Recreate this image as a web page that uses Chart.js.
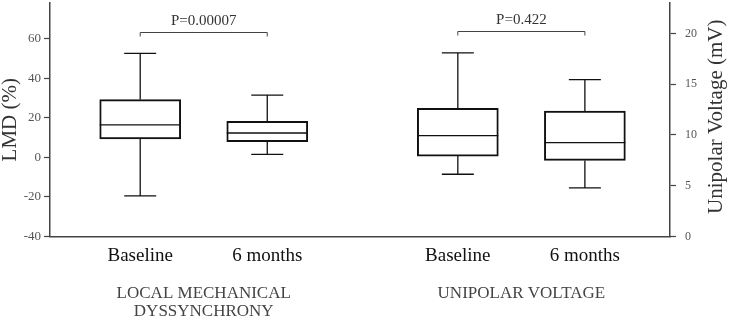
<!DOCTYPE html>
<html>
<head>
<meta charset="utf-8">
<script src="https://cdn.jsdelivr.net/npm/chart.js@4"></script>
<style>
  html, body { margin: 0; padding: 0; background: #fff; }
  #wrap { width: 730px; height: 320px; }
</style>
</head>
<body>
<div id="wrap"><canvas id="boxChart" width="730" height="320"></canvas></div>
<script>
// categories and groups
const categories = ['Baseline', '6 months', 'Baseline', '6 months'];
const groupNames = [['LOCAL MECHANICAL', 'DYSSYNCHRONY'], ['UNIPOLAR VOLTAGE']];
const xPositions = [1, 2, 3.5, 4.5];

// Local mechanical dyssynchrony (%), left axis
const lmdMin = [-19.5, 1.5];
const lmdQ1 = [9.3, 7.9];
const lmdMedian = [16.4, 12.3];
const lmdQ3 = [29.2, 18.2];
const lmdMax = [52.5, 31.4];

// Unipolar voltage (mV), right axis
const uniMin = [6.13, 4.78];
const uniQ1 = [7.92, 7.49];
const uniMedian = [9.94, 9.25];
const uniQ3 = [12.62, 12.35];
const uniMax = [18.08, 15.46];

// significance brackets
const pLabels = ['P=0.00007', 'P=0.422'];
const bracketLevels = [63.2, 20.2];

const serif = '"Liberation Serif", "Times New Roman", serif';

function boxData(offset, q1, q3) {
  return q1.map((v, i) => ({ x: xPositions[offset + i], y: [v, q3[i]] }));
}

const stats = [
  { min: lmdMin, med: lmdMedian, max: lmdMax, q1: lmdQ1, q3: lmdQ3, offset: 0, axis: 'y' },
  { min: uniMin, med: uniMedian, max: uniMax, q1: uniQ1, q3: uniQ3, offset: 2, axis: 'y2' }
];

// no label padding, so the plot area fills the canvas like the original
function noPadding(s) {
  s.paddingTop = 0;
  s.paddingBottom = 0;
  s.paddingLeft = 0;
  s.paddingRight = 0;
}

// whiskers, medians, p-value brackets and extra titles
const boxExtras = {
  id: 'boxExtras',
  afterDatasetsDraw(chart) {
    const ctx = chart.ctx;
    const xs = chart.scales.x;
    const area = chart.chartArea;
    const half = 40.5;
    const cap = 16;

    ctx.save();
    ctx.strokeStyle = '#111';
    ctx.lineWidth = 1.3;
    stats.forEach(s => {
      const ys = chart.scales[s.axis];
      s.med.forEach((m, i) => {
        const x = xs.getPixelForValue(xPositions[s.offset + i]);
        const yMed = ys.getPixelForValue(m);
        const yMin = ys.getPixelForValue(s.min[i]);
        const yMax = ys.getPixelForValue(s.max[i]);
        const yQ1 = ys.getPixelForValue(s.q1[i]);
        const yQ3 = ys.getPixelForValue(s.q3[i]);
        ctx.beginPath();
        ctx.moveTo(x - half, yMed); ctx.lineTo(x + half, yMed);
        ctx.moveTo(x, yQ3); ctx.lineTo(x, yMax);
        ctx.moveTo(x - cap, yMax); ctx.lineTo(x + cap, yMax);
        ctx.moveTo(x, yQ1); ctx.lineTo(x, yMin);
        ctx.moveTo(x - cap, yMin); ctx.lineTo(x + cap, yMin);
        ctx.stroke();
      });
    });

    // brackets
    ctx.strokeStyle = '#444';
    ctx.lineWidth = 1;
    ctx.fillStyle = '#333';
    ctx.font = '15px ' + serif;
    ctx.textAlign = 'center';
    ctx.textBaseline = 'alphabetic';
    stats.forEach((s, g) => {
      const ys = chart.scales[s.axis];
      const x1 = xs.getPixelForValue(xPositions[s.offset]);
      const x2 = xs.getPixelForValue(xPositions[s.offset + 1]);
      const y = Math.round(ys.getPixelForValue(bracketLevels[g])) + 0.5;
      ctx.beginPath();
      ctx.moveTo(x1, y + 4); ctx.lineTo(x1, y); ctx.lineTo(x2, y); ctx.lineTo(x2, y + 4);
      ctx.stroke();
      ctx.fillText(pLabels[g], (x1 + x2) / 2, y - 8);
    });

    // group names under the axis
    ctx.fillStyle = '#444';
    ctx.font = '17px ' + serif;
    ctx.textBaseline = 'middle';
    groupNames.forEach((lines, g) => {
      const s = stats[g];
      const x = (xs.getPixelForValue(xPositions[s.offset]) + xs.getPixelForValue(xPositions[s.offset + 1])) / 2;
      lines.forEach((t, k) => ctx.fillText(t, x, area.bottom + 57 + k * 18));
    });

    // right axis title, reading bottom to top
    ctx.fillStyle = '#333';
    ctx.font = '21px ' + serif;
    ctx.translate(716, (area.top + area.bottom) / 2 - 3);
    ctx.rotate(-Math.PI / 2);
    ctx.fillText('Unipolar Voltage (mV)', 0, 0);
    ctx.restore();
  }
};

const ctx = document.getElementById('boxChart').getContext('2d');

new Chart(ctx, {
  type: 'bar',
  data: {
    datasets: [
      {
        label: 'LMD',
        data: boxData(0, lmdQ1, lmdQ3),
        yAxisID: 'y',
        backgroundColor: 'rgba(255,255,255,0)',
        borderColor: '#111',
        borderWidth: 1.3,
        borderSkipped: false,
        barThickness: 81,
        grouped: false
      },
      {
        label: 'Unipolar Voltage',
        data: boxData(2, uniQ1, uniQ3),
        yAxisID: 'y2',
        backgroundColor: 'rgba(255,255,255,0)',
        borderColor: '#111',
        borderWidth: 1.3,
        borderSkipped: false,
        barThickness: 81,
        grouped: false
      }
    ]
  },
  options: {
    responsive: false,
    animation: false,
    events: [],
    layout: { padding: { top: 3, left: 0, right: 0, bottom: 0 } },
    plugins: {
      legend: { display: false },
      tooltip: { enabled: false }
    },
    scales: {
      x: {
        type: 'linear',
        offset: false,
        min: 0.29,
        max: 5.17,
        afterFit: s => { s.height = 83.5; noPadding(s); },
        afterBuildTicks: s => { s.ticks = xPositions.map(v => ({ value: v })); },
        grid: { drawOnChartArea: false, drawTicks: false },
        border: { color: '#444', width: 1.5 },
        ticks: {
          autoSkip: false,
          maxRotation: 0,
          padding: 8,
          color: '#111',
          font: { family: serif, size: 19 },
          callback: (v, i) => categories[i]
        }
      },
      y: {
        position: 'left',
        min: -40,
        max: 78,
        afterFit: s => { s.width = 50; noPadding(s); },
        grid: { drawOnChartArea: false, tickLength: 6, tickColor: '#444', tickWidth: 1.2 },
        border: { color: '#444', width: 1.5 },
        ticks: {
          stepSize: 20,
          includeBounds: false,
          padding: 3,
          color: '#555',
          font: { family: serif, size: 13 }
        },
        title: {
          display: true,
          text: 'LMD (%)',
          color: '#333',
          padding: 0,
          font: { family: serif, size: 21, lineHeight: 1 }
        }
      },
      y2: {
        position: 'right',
        min: 0,
        max: 23,
        afterFit: s => { s.width = 60; noPadding(s); },
        grid: { drawOnChartArea: false, tickLength: 6, tickColor: '#444', tickWidth: 1.2 },
        border: { color: '#444', width: 1.5 },
        ticks: {
          stepSize: 5,
          includeBounds: false,
          padding: 9,
          color: '#555',
          font: { family: serif, size: 12 }
        }
      }
    }
  },
  plugins: [boxExtras]
});
</script>
</body>
</html>
